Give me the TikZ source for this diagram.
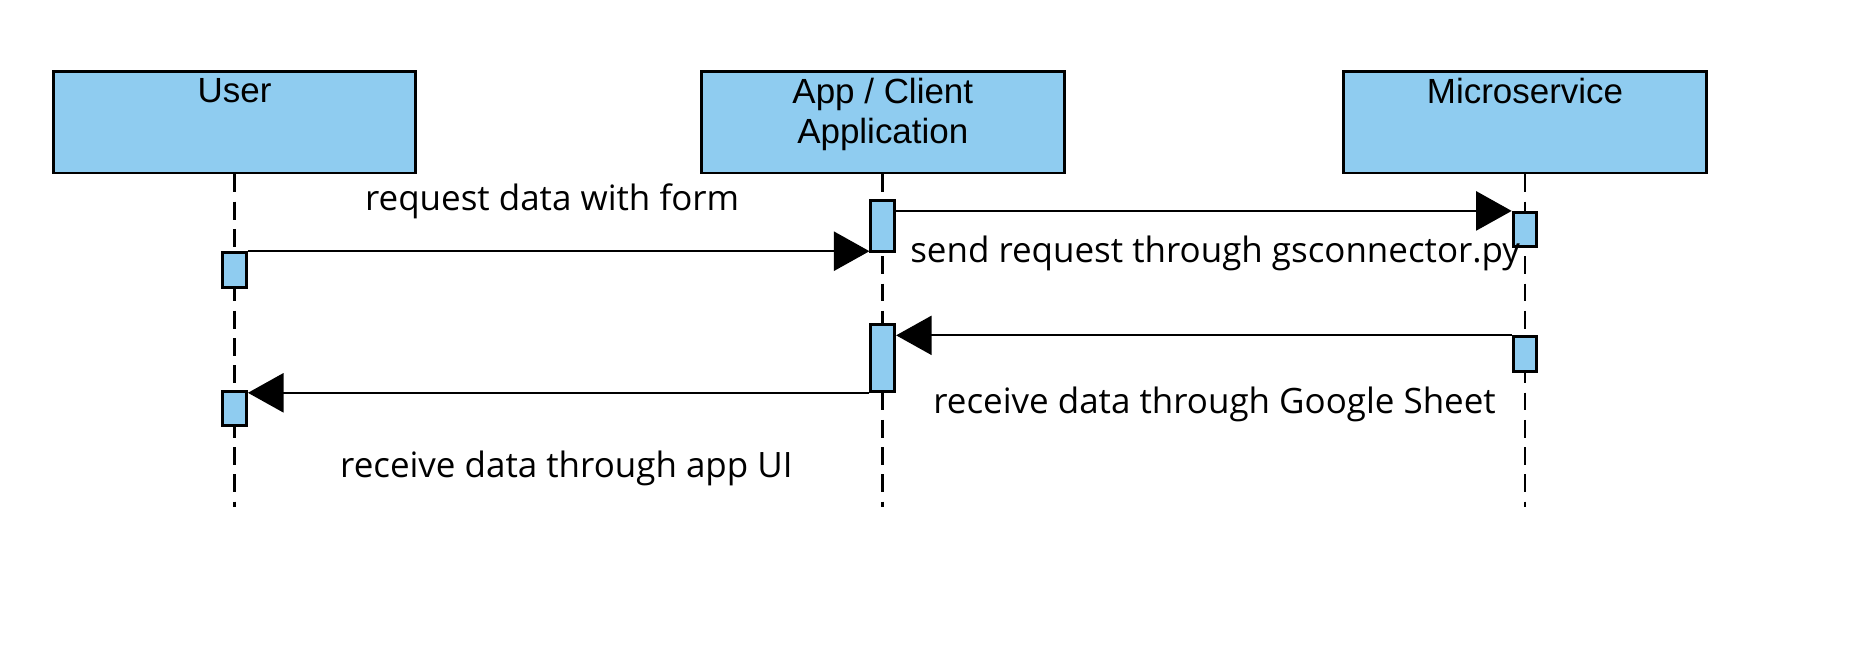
\documentclass[tikz,border=0pt]{standalone}
\usepackage{fontspec}
\usetikzlibrary{arrows.meta,positioning}
\newfontfamily\headfont{Liberation Sans}
\newfontfamily\msgfont{Open Sans}
\definecolor{lifeblue}{HTML}{8FCCF0}

\begin{document}
\begin{tikzpicture}[x=1pt,y=-1pt,
    actor/.style={draw,fill=lifeblue,line width=2.5pt,minimum width=306pt,minimum height=86pt,inner sep=0pt},
    head/.style={font=\headfont\fontsize{29.5}{34}\selectfont,align=center,inner sep=0pt},
    act/.style={draw,fill=lifeblue,line width=2.5pt,minimum width=20pt,inner sep=0pt,anchor=north},
    life/.style={line width=2.2pt,dash pattern=on 15pt off 8pt},
    msg/.style={draw,-{Triangle[length=30pt,width=33pt]},line width=1.8pt},
    msglabel/.style={font=\msgfont\fontsize{29.5}{34}\selectfont,inner sep=0pt}]
    \useasboundingbox (0,0) rectangle (1568,562);

    % participants
    \node[actor] (user) at (198,103) {};
    \node[actor] (app) at (745,103) {};
    \node[actor] (micro) at (1287,103) {};
    \node[head,below=7pt of user.north] (userhead) {User};
    \node[head,below=7pt of app.north] (apphead) {App / Client\\Application};
    \node[head,below=7pt of micro.north] (microhead) {Microservice};

    % lifelines
    \coordinate (userend) at (198,428);
    \coordinate (append) at (745,428);
    \coordinate (microend) at (1287,428);
    \draw[life] (user) -- (userend);
    \draw[life] (app) -- (append);
    \draw[life] (micro) -- (microend);

    % activations
    \node[act,minimum height=29pt] (u1) at (198,212) {};
    \node[act,minimum height=29pt] (u2) at (198,329) {};
    \node[act,minimum height=43pt] (a1) at (745,168) {};
    \node[act,minimum height=56pt] (a2) at (745,273) {};
    \node[act,minimum height=29pt] (m1) at (1287,178) {};
    \node[act,minimum height=29pt] (m2) at (1287,283) {};

    % messages
    \path[every edge/.append style={msg}]
        (u1.north east) edge (u1.north east -| a1.west)
        (a1.east |- m1.north) edge (m1.north west)
        (m2.north west) edge (a2.east |- m2.north)
        (a2.south west) edge (a2.south west -| u2.east)
    ;

    \node[msglabel] (reqlbl) at (466,170) {request data with form};
    \node[msglabel,anchor=west] (sendlbl) at (768,214) {send request through gsconnector.py};
    \node[msglabel] (sheetlbl) at (1025,341) {receive data through Google Sheet};
    \node[msglabel] (uilbl) at (478,395) {receive data through app UI};
\end{tikzpicture}
\end{document}
